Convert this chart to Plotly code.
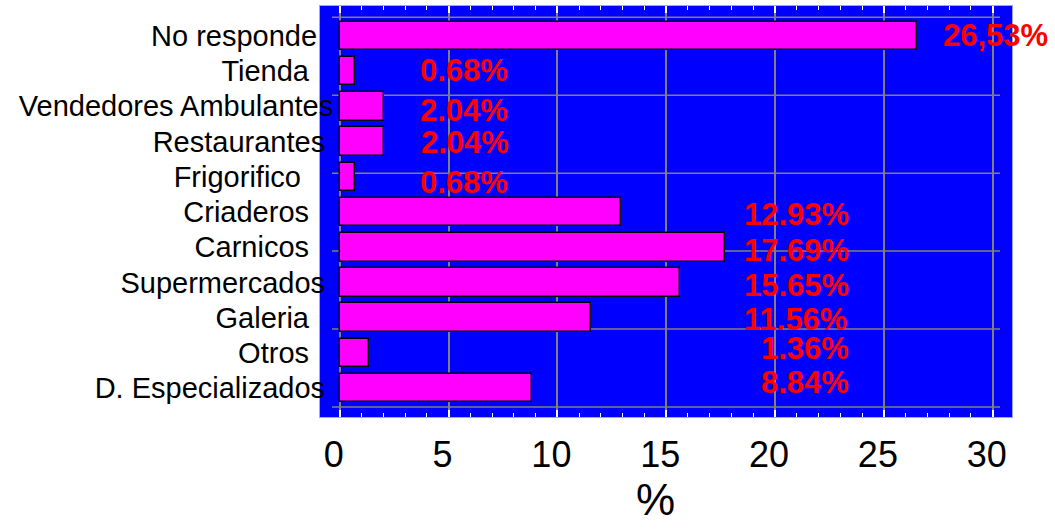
import plotly.graph_objects as go

# Categories listed top to bottom, with their shares (%)
categories = [
    "No responde", "Tienda", "Vendedores Ambulantes", "Restaurantes",
    "Frigorifico", "Criaderos", "Carnicos", "Supermercados",
    "Galeria", "Otros", "D. Especializados",
]
shares = [26.53, 0.68, 2.04, 2.04, 0.68, 12.93, 17.69, 15.65, 11.56, 1.36, 8.84]
decimal_marks = [",", ".", ".", ".", ".", ".", ".", ".", ".", ".", "."]
x_ticks = [0, 5, 10, 15, 20, 25, 30]

# Layout helpers (label anchors, padding of the category labels)
label_x = [27.62, 3.60, 3.60, 3.65, 3.60, 23.49, 23.49, 23.49, 23.40, 23.49, 23.49]
label_anchor = ["left", "left", "left", "left", "left",
                "right", "right", "right", "right", "right", "right"]
label_dy = [0.0, 0.03, -0.12, -0.03, -0.15, -0.06, -0.08, -0.09, -0.06, 0.13, 0.16]
label_pad = [2, 3, 0, 1, 4, 3, 3, 1, 3, 3, 1]

n = len(categories)
ypos = [n - 1 - i for i in range(n)]
NBSP = "\u00a0"
tick_text = [c + NBSP * p for c, p in zip(categories, label_pad)]

FONT = "Liberation Sans, Arial, sans-serif"

fig = go.Figure()
fig.add_trace(go.Bar(
    x=shares,
    y=ypos,
    orientation="h",
    width=0.81,
    marker=dict(color="#FF00FF", line=dict(color="black", width=1.5)),
    hoverinfo="x+y",
))

# Value labels
for v, y, lx, anc, dy, sep in zip(shares, ypos, label_x, label_anchor, label_dy, decimal_marks):
    txt = f"{v:.2f}".replace(".", sep) + "%"
    fig.add_annotation(
        x=lx, y=y + dy, xref="x", yref="y", text=f"<b>{txt}</b>",
        showarrow=False, xanchor=anc, yanchor="middle",
        font=dict(family=FONT, size=31, color="#FF0000"),
    )

# Horizontal grid lines of the inner frame
grid_y0, grid_step = -0.533, 2.2116
for k in range(6):
    gy = grid_y0 + k * grid_step
    fig.add_shape(
        type="line", xref="x domain", yref="y",
        x0=0.0173, x1=0.9827, y0=gy, y1=gy,
        line=dict(color="#808080", width=1.5), layer="below",
    )

# Axis title
fig.add_annotation(
    x=0.4855, y=-0.2, xref="paper", yref="paper", text="%",
    showarrow=False, xanchor="center", yanchor="middle",
    font=dict(family=FONT, size=44, color="black"),
)

fig.update_layout(
    width=1055, height=529,
    margin=dict(l=320, r=43, t=6, b=112),
    paper_bgcolor="white",
    plot_bgcolor="#0000FF",
    showlegend=False,
    bargap=0,
    font=dict(family=FONT, color="black"),
)

fig.update_xaxes(
    range=[-0.905, 30.886],
    tickvals=x_ticks,
    ticktext=[str(t) for t in x_ticks],
    ticks="inside", ticklen=7, tickwidth=1.5, tickcolor="white",
    minor=dict(dtick=1, tick0=0, ticks="inside", ticklen=4, tickwidth=1.2,
               tickcolor="white", showgrid=False),
    showgrid=True, gridcolor="#808080", gridwidth=1.5,
    zeroline=False,
    showline=True, linecolor="#A0A0FF", linewidth=1, mirror="ticks",
    tickfont=dict(family=FONT, size=36, color="black"),
    ticklabelstandoff=6, ticklabelshift=-6,
)

fig.update_yaxes(
    range=[-0.817, 10.846],
    tickvals=ypos,
    ticktext=tick_text,
    ticks="",
    showgrid=False, zeroline=False,
    showline=True, linecolor="#A0A0FF", linewidth=1, mirror=True,
    tickfont=dict(family=FONT, size=29, color="black"),
    ticklabelstandoff=-20,
)

fig.write_html("out.html")
